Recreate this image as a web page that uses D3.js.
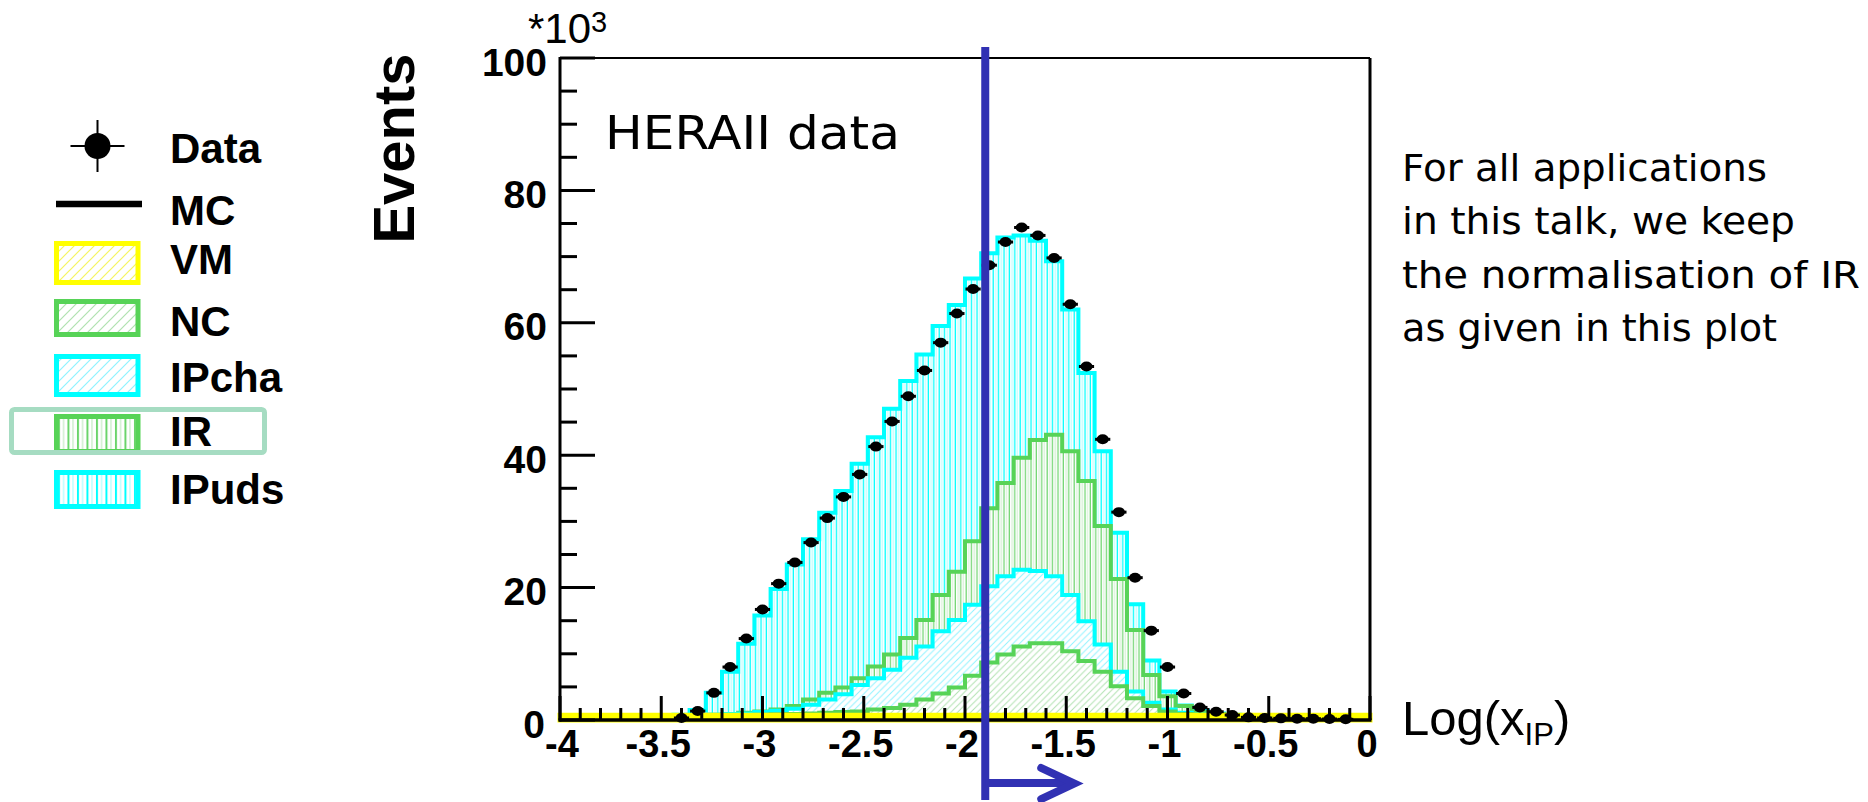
<!DOCTYPE html>
<html>
<head>
<meta charset="utf-8">
<script src="https://cdn.jsdelivr.net/npm/d3@7"></script>
<style>
  html, body { margin: 0; padding: 0; background: #fff; }
  svg { display: block; }
</style>
</head>
<body>
<svg id="chart" width="1868" height="802"></svg>
<script>
// ---- Histogram definition: log(x_IP) from -4 to 0 in 50 bins of 0.08 ----
const binLow = [-4.00,-3.92,-3.84,-3.76,-3.68,-3.60,-3.52,-3.44,-3.36,-3.28,
                -3.20,-3.12,-3.04,-2.96,-2.88,-2.80,-2.72,-2.64,-2.56,-2.48,
                -2.40,-2.32,-2.24,-2.16,-2.08,-2.00,-1.92,-1.84,-1.76,-1.68,
                -1.60,-1.52,-1.44,-1.36,-1.28,-1.20,-1.12,-1.04,-0.96,-0.88,
                -0.80,-0.72,-0.64,-0.56,-0.48,-0.40,-0.32,-0.24,-0.16,-0.08];
const binWidth = 0.08;

// ---- Monte Carlo components (events / 1000), stacked bottom to top ----
const vmValues = [0.7,0.7,0.7,0.7,0.7,0.7,0.7,0.7,0.7,0.7,
                  0.7,0.7,0.7,0.7,0.7,0.7,0.7,0.7,0.7,0.7,
                  0.7,0.7,0.7,0.7,0.7,0.7,0.7,0.7,0.7,0.7,
                  0.7,0.7,0.7,0.7,0.7,0.7,0.7,0.7,0.7,0.7,
                  0.7,0.7,0.7,0.7,0.7,0.7,0.7,0.7,0.7,0.7];
const ncValues = [0,0,0,0,0,0,0,0,0,0,
                  0,0.05,0.1,0.15,0.2,0.3,0.4,0.5,0.6,0.9,
                  1.1,1.6,2.4,3.3,4.2,6.0,8.0,9.2,10.4,10.9,
                  10.9,9.7,8.2,6.6,4.4,2.6,1.4,0.6,0.2,0.05,
                  0,0,0,0,0,0,0,0,0,0];
const ipchaValues = [0,0,0,0,0,0,0,0,0,0.1,
                     0.2,0.25,0.4,0.55,0.8,1.3,2.0,2.7,4.0,4.7,
                     5.8,7.1,8.0,9.4,10.2,10.7,11.5,11.8,11.6,10.9,
                     10.1,8.5,6.0,4.1,2.2,1.0,0.5,0.3,0.2,0.05,
                     0,0,0,0,0,0,0,0,0,0];
const irValues = [0,0,0,0,0,0,0,0,0,0,
                  0,0.1,0.1,0.2,0.4,0.8,1.0,1.0,1.0,1.8,
                  2.3,3.0,4.0,5.5,7.3,9.6,11.8,14.1,16.9,19.8,
                  21.4,21.7,21.2,17.9,14.0,9.3,4.2,2.0,1.0,0.4,
                  0.2,0.05,0,0,0,0,0,0,0,0];
const ipudsValues = [0,0,0,0,0,0,0,0.1,0.8,3.3,
                     6.4,10.4,14.5,18.2,21.4,24.2,27.2,29.7,32.4,34.6,
                     37.1,38.8,40.1,40.6,40.3,39.7,38.5,37.1,33.6,30.1,
                     26.2,21.4,16.3,11.3,7.0,3.9,2.2,0.7,0.1,0.2,
                     0.1,0.05,0,0,0,0,0,0,0,0];

// ---- HERA II data (events / 1000) ----
const dataValues = [null,null,null,null,null,null,null,0.3,1.35,4.1,
                    8.0,12.3,16.7,20.6,23.8,26.8,30.5,33.7,37.1,41.3,
                    45.1,48.9,52.8,57.0,61.4,65.1,68.7,72.2,74.4,73.2,
                    69.8,62.8,53.4,42.4,31.4,21.5,13.5,8.0,4.0,1.9,
                    1.25,0.75,0.4,0.3,0.25,0.2,0.2,0.15,0.1,null];

// ---- Axis ticks ----
const xMajorTicks = [-4,-3.5,-3,-2.5,-2,-1.5,-1,-0.5,0];
const xTickLabels = ["-4","-3.5","-3","-2.5","-2","-1.5","-1","-0.5","0"];
const yMajorTicks = [0,20,40,60,80,100];
const yTickLabels = ["0","20","40","60","80","100"];

// ---- Legend entries ----
const legendLabels = ["Data","MC","VM","NC","IPcha","IR","IPuds"];

// ---- Selection cut on log(x_IP) ----
const cutValue = -1.9;

// ---- Annotations ----
const sampleLabel = "HERAII data";
const noteLines = ["For all applications","in this talk, we keep","the normalisation of IR","as given in this plot"];

// ------------------------------------------------------------------
const GREEN = "#57d357", CYAN = "#00ffff", YELLOW = "#ffff00", BLUE = "#3131b3";
const AXIS_FONT = "'Liberation Sans', Arial, sans-serif";
const HAND_FONT = "'Comic Sans MS', 'DejaVu Sans', sans-serif";

const svg = d3.select("#chart");
const defs = svg.append("defs");

const x = d3.scaleLinear().domain([-4, 0]).range([560, 1370]);
const y = d3.scaleLinear().domain([0, 100]).range([720, 58]);

// hatch patterns: vertical (ROOT-like) and diagonal "///"
function vHatch(id, strong, pale, w, x0, sw) {
  const p = defs.append("pattern").attr("id", id).attr("patternUnits", "userSpaceOnUse")
    .attr("x", x0).attr("y", 0).attr("width", w).attr("height", 20);
  p.append("rect").attr("width", w).attr("height", 20).attr("fill", "#fff");
  p.append("rect").attr("x", w * 0.1).attr("width", sw).attr("height", 20).attr("fill", strong);
  p.append("rect").attr("x", w * 0.6).attr("width", sw * 0.8).attr("height", 20).attr("fill", pale);
}
function dHatch(id, color, s, sw) {
  const p = defs.append("pattern").attr("id", id).attr("patternUnits", "userSpaceOnUse")
    .attr("width", s).attr("height", s);
  p.append("rect").attr("width", s).attr("height", s).attr("fill", "#fff");
  p.append("path")
    .attr("d", `M0,${s} L${s},0 M${-s/2},${s/2} L${s/2},${-s/2} M${s/2},${s*1.5} L${s*1.5},${s/2}`)
    .attr("stroke", color).attr("stroke-width", sw).attr("fill", "none");
}
vHatch("vCyan", CYAN, "#b8ffff", 5.4, 560, 1.3);
vHatch("vGreen", "#6ad46a", "#cdeecd", 5.4, 560, 1.2);
dHatch("dCyan", "#8ff3ff", 6.6, 1);
dHatch("dGreen", "#b0e2b0", 6.6, 1);
dHatch("dYellow", "#ffff90", 6.6, 1);
vHatch("lvCyan", CYAN, "#c0ffff", 9.5, 57, 2);
vHatch("lvGreen", "#6ad46a", "#d2efd2", 9.5, 57, 2);
dHatch("ldCyan", "#8ff3ff", 10, 1.2);
dHatch("ldGreen", "#b0e2b0", 10, 1.2);
dHatch("ldYellow", "#f5f560", 10, 1.2);

// ---- stacked histograms ----
const seriesKeys = ["VM", "NC", "IPcha", "IR", "IPuds"];
const seriesStyle = {
  VM:    { color: YELLOW, fill: "url(#dYellow)", legendFill: "url(#ldYellow)" },
  NC:    { color: GREEN,  fill: "url(#dGreen)",  legendFill: "url(#ldGreen)" },
  IPcha: { color: CYAN,   fill: "url(#dCyan)",   legendFill: "url(#ldCyan)" },
  IR:    { color: GREEN,  fill: "url(#vGreen)",  legendFill: "url(#lvGreen)" },
  IPuds: { color: CYAN,   fill: "url(#vCyan)",   legendFill: "url(#lvCyan)" }
};
const rows = binLow.map((lo, i) => ({
  lo, VM: vmValues[i], NC: ncValues[i], IPcha: ipchaValues[i], IR: irValues[i], IPuds: ipudsValues[i]
}));
const stacked = d3.stack().keys(seriesKeys)(rows);

function stepPath(layer) {
  const pts = [[x(-4), y(0)]];
  layer.forEach(d => {
    const top = d[1];
    pts.push([x(d.data.lo), y(top)], [x(d.data.lo + binWidth), y(top)]);
  });
  pts.push([x(0), y(0)]);
  return d3.line()(pts) + "Z";
}

const histG = svg.append("g");
stacked.slice().reverse().forEach(layer => {
  const st = seriesStyle[layer.key];
  histG.append("path")
    .attr("d", stepPath(layer))
    .attr("fill", st.fill)
    .attr("stroke", st.color)
    .attr("stroke-width", layer.key === "VM" ? 5 : 4)
    .attr("stroke-linejoin", "miter");
});

// ---- data points with horizontal bin-width bars ----
const dataG = svg.append("g");
const pts = dataValues.map((v, i) => ({ lo: binLow[i], v })).filter(d => d.v !== null);
dataG.selectAll("line").data(pts).join("line")
  .attr("x1", d => x(d.lo) + 0.5).attr("x2", d => x(d.lo + binWidth) - 0.5)
  .attr("y1", d => y(d.v)).attr("y2", d => y(d.v))
  .attr("stroke", "#000").attr("stroke-width", 3);
dataG.selectAll("ellipse").data(pts).join("ellipse")
  .attr("cx", d => x(d.lo + binWidth / 2)).attr("cy", d => y(d.v))
  .attr("rx", 6).attr("ry", 5).attr("fill", "#000");

// ---- frame and ticks ----
const axG = svg.append("g").attr("stroke", "#000");
axG.append("line").attr("x1", x(-4)).attr("x2", x(0)).attr("y1", y(100)).attr("y2", y(100)).attr("stroke-width", 2);
axG.append("line").attr("x1", x(0)).attr("x2", x(0)).attr("y1", y(100)).attr("y2", y(0)).attr("stroke-width", 3);
axG.append("line").attr("x1", x(-4)).attr("x2", x(-4)).attr("y1", y(100) - 1).attr("y2", y(0) + 1.5).attr("stroke-width", 3);
axG.append("line").attr("x1", x(-4) - 1.5).attr("x2", x(0) + 1.5).attr("y1", y(0)).attr("y2", y(0)).attr("stroke-width", 3.5);

const yMinor = d3.range(0, 101, 5).filter(v => !yMajorTicks.includes(v));
axG.selectAll(".ymin").data(yMinor).join("line")
  .attr("x1", x(-4)).attr("x2", x(-4) + 17).attr("y1", d => y(d)).attr("y2", d => y(d)).attr("stroke-width", 3);
axG.selectAll(".ymaj").data(yMajorTicks).join("line")
  .attr("x1", x(-4)).attr("x2", x(-4) + 35).attr("y1", d => y(d)).attr("y2", d => y(d)).attr("stroke-width", 3);

const xMinor = d3.range(-40, 1, 1).map(v => v / 10).filter(v => !xMajorTicks.some(m => Math.abs(m - v) < 1e-9));
axG.selectAll(".xmin").data(xMinor).join("line")
  .attr("x1", d => x(d)).attr("x2", d => x(d)).attr("y1", y(0)).attr("y2", y(0) - 12).attr("stroke-width", 3);
axG.selectAll(".xmaj").data(xMajorTicks).join("line")
  .attr("x1", d => x(d)).attr("x2", d => x(d)).attr("y1", y(0)).attr("y2", y(0) - 24).attr("stroke-width", 3);

// tick labels
const lblG = svg.append("g").attr("font-family", AXIS_FONT).attr("font-weight", "bold").attr("fill", "#000");
lblG.selectAll(".yl").data(yMajorTicks).join("text")
  .attr("x", d => d === 0 ? 545 : 547).attr("y", d => y(d) + 17.5)
  .attr("text-anchor", "end").attr("font-size", 39)
  .text((d, i) => yTickLabels[i]);
lblG.selectAll(".xl").data(xMajorTicks).join("text")
  .attr("x", d => x(d) - (d === -4 ? -2 : 3)).attr("y", 757)
  .attr("text-anchor", "middle").attr("font-size", 38)
  .text((d, i) => xTickLabels[i]);

// axis titles
svg.append("text").attr("font-family", AXIS_FONT).attr("font-weight", "bold").attr("font-size", 58)
  .attr("text-anchor", "middle").attr("transform", "translate(414,148.5) rotate(-90)").text("Events");

const expo = svg.append("text").attr("font-family", AXIS_FONT).attr("font-size", 42).attr("x", 528).attr("y", 43);
expo.append("tspan").text("*10");
expo.append("tspan").attr("font-size", 29).attr("dy", -11).text("3");

const xt = svg.append("text").attr("font-family", AXIS_FONT).attr("font-size", 49).attr("x", 1402).attr("y", 735);
xt.append("tspan").text("Log(x");
xt.append("tspan").attr("font-size", 31).attr("dy", 10).text("IP");
xt.append("tspan").attr("dy", -10).text(")");

// ---- annotations ----
svg.append("text").attr("font-family", HAND_FONT).attr("font-size", 46)
  .attr("x", 605).attr("y", 149).attr("textLength", 295).attr("lengthAdjust", "spacingAndGlyphs")
  .text(sampleLabel);

const noteBase = [180.5, 234, 288, 341];
const noteWidth = [365, 393, 458, 375];
svg.append("g").attr("font-family", HAND_FONT).attr("font-size", 38)
  .selectAll("text").data(noteLines).join("text")
  .attr("x", 1402).attr("y", (d, i) => noteBase[i])
  .attr("textLength", (d, i) => noteWidth[i]).attr("lengthAdjust", "spacingAndGlyphs")
  .text(d => d);

// ---- legend ----
const leg = svg.append("g");
const legBase = [162.5, 225, 274, 336, 392, 446, 503.5];
leg.selectAll("text").data(legendLabels).join("text")
  .attr("x", 170).attr("y", (d, i) => legBase[i])
  .attr("font-family", AXIS_FONT).attr("font-weight", "bold").attr("font-size", 42)
  .text(d => d);
// data marker
leg.append("line").attr("x1", 70.5).attr("x2", 124.5).attr("y1", 146).attr("y2", 146).attr("stroke", "#000").attr("stroke-width", 2);
leg.append("line").attr("x1", 97.5).attr("x2", 97.5).attr("y1", 120).attr("y2", 172).attr("stroke", "#000").attr("stroke-width", 2);
leg.append("circle").attr("cx", 97.5).attr("cy", 146).attr("r", 13).attr("fill", "#000");
// MC line
leg.append("line").attr("x1", 56).attr("x2", 142).attr("y1", 204).attr("y2", 204).attr("stroke", "#000").attr("stroke-width", 6.5);
// filled boxes
const boxTop = [241, 299, 354, 414, 470];
const boxH = [44, 38, 43, 40, 39];
seriesKeys.forEach((k, i) => {
  leg.append("rect")
    .attr("x", 56.5).attr("y", boxTop[i] + 2.5).attr("width", 81.5).attr("height", boxH[i] - 5)
    .attr("fill", seriesStyle[k].legendFill).attr("stroke", seriesStyle[k].color).attr("stroke-width", 5);
});
// highlight around the IR entry
leg.append("rect").attr("x", 11.5).attr("y", 409.5).attr("width", 253).attr("height", 43).attr("rx", 3)
  .attr("fill", "none").attr("stroke", "#a6dcc2").attr("stroke-width", 5);

// ---- cut marker: vertical line and arrow towards larger x_IP ----
const cutG = svg.append("g").attr("stroke", BLUE).attr("stroke-width", 8).attr("fill", "none");
cutG.append("line").attr("x1", x(cutValue)).attr("x2", x(cutValue)).attr("y1", 47).attr("y2", 800);
cutG.append("line").attr("x1", x(cutValue)).attr("x2", x(cutValue) + 86).attr("y1", 783).attr("y2", 783);
cutG.append("path")
  .attr("d", `M${x(cutValue) + 56},768 L${x(cutValue) + 89},783.5 L${x(cutValue) + 56},799`)
  .attr("stroke-linejoin", "miter").attr("stroke-linecap", "round");
</script>
</body>
</html>
